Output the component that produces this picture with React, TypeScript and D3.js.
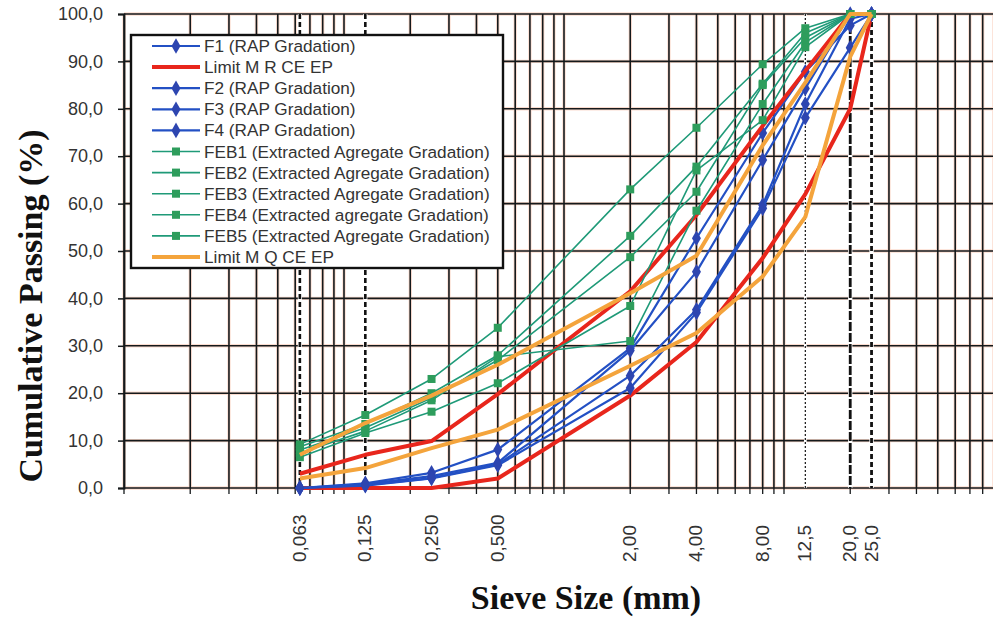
import { useEffect, useRef } from 'react'
import * as d3 from 'd3'

// sieve sizes (mm) and their printed labels
const SIEVES = [0.063, 0.125, 0.25, 0.5, 2, 4, 8, 12.5, 20, 25]
const SIEVE_LABELS = ['0,063', '0,125', '0,250', '0,500', '2,00', '4,00', '8,00', '12,5', '20,0', '25,0']
const Y_TICKS = [0, 10, 20, 30, 40, 50, 60, 70, 80, 90, 100]
// sieves marked with extra vertical reference lines
const REF_SIEVES = [0.063, 0.125, 12.5, 20, 25]

// cumulative passing (%)
const F1 = [0, 1.0, 3.2, 8.1, 29.5, 52.7, 74.9, 87.8, 97.6, 100]
const F2 = [0, 0.8, 2.5, 5.3, 29.0, 45.6, 69.2, 84.3, 100, 100]
const F3 = [0, 0.6, 2.1, 5.0, 23.7, 37.6, 59.7, 81.0, 99.0, 100]
const F4 = [0, 0.5, 2.0, 4.8, 21.1, 37.0, 59.0, 78.1, 92.9, 100]
const FEB1 = [9.2, 15.4, 23.0, 33.8, 63.0, 76.0, 89.4, 97.0, 100, 100]
const FEB2 = [8.7, 13.5, 20.0, 28.0, 53.2, 67.8, 85.3, 96.0, 100, 100]
const FEB3 = [8.0, 12.7, 19.0, 27.0, 48.7, 62.5, 85.0, 95.0, 100, 100]
const FEB4 = [7.4, 12.0, 18.5, 27.7, 31.0, 58.5, 81.0, 94.0, 100, 100]
const FEB5 = [6.5, 11.6, 16.1, 22.1, 38.4, 67.0, 77.6, 93.0, 100, 100]
const LIMIT_MR_LOW = [0, 0, 0, 2.0, 19.5, 30.8, 48.5, 62.0, 80.0, 100]
const LIMIT_MR_HIGH = [3.0, 7.0, 9.9, 19.8, 41.5, 57.6, 76.4, 88.0, 100, 100]
const LIMIT_MQ_LOW = [2.0, 4.2, 8.4, 12.3, 25.8, 32.7, 44.6, 57.2, 91.0, 100]
const LIMIT_MQ_HIGH = [7.0, 13.7, 19.5, 26.0, 41.1, 49.0, 72.3, 85.5, 100, 100]

const BLUE = '#2350c4', BLUE_MK = '#2d45b0'
const RED = '#e8261c', ORANGE = '#f4a43c'
const GREEN = '#1f9a78', GREEN_MK = '#2e9d5c'
const INK = '#15191b'

type Kind = 'rap' | 'feb' | 'mr' | 'mq'
const LEGEND: [string, Kind][] = [
  ['F1 (RAP Gradation)', 'rap'],
  ['Limit M R CE EP', 'mr'],
  ['F2 (RAP Gradation)', 'rap'],
  ['F3 (RAP Gradation)', 'rap'],
  ['F4 (RAP Gradation)', 'rap'],
  ['FEB1 (Extracted Agregate Gradation)', 'feb'],
  ['FEB2 (Extracted Agregate Gradation)', 'feb'],
  ['FEB3 (Extracted Agregate Gradation)', 'feb'],
  ['FEB4 (Extracted agregate Gradation)', 'feb'],
  ['FEB5 (Extracted Agregate Gradation)', 'feb'],
  ['Limit M Q CE EP', 'mq'],
]

const fmtY = (v: number) => v.toFixed(1).replace('.', ',')

export default function App() {
  const svgRef = useRef<SVGSVGElement>(null)

  useEffect(() => {
    if (!svgRef.current) return
    const svg = d3.select(svgRef.current)
    svg.selectAll('*').remove()

    const W = 993, H = 617
    const m = { t: 14, l: 124, b: 488 }
    const x = d3.scaleLog().domain([0.01, 100]).range([m.l, 1004])
    const y = d3.scaleLinear().domain([0, 100]).range([m.b, m.t])

    svg.append('rect').attr('width', W).attr('height', H).attr('fill', '#fff')

    // grid: faint salmon halo under dark line
    const grid = svg.append('g')
    const gx = x.ticks()
    const drawGrid = (stroke: string, w: number) => {
      grid.selectAll(null).data(gx).join('line')
        .attr('x1', d => x(d)).attr('x2', d => x(d)).attr('y1', m.t).attr('y2', m.b)
        .attr('stroke', stroke).attr('stroke-width', w)
      grid.selectAll(null).data(Y_TICKS).join('line')
        .attr('x1', m.l).attr('x2', W).attr('y1', d => y(d)).attr('y2', d => y(d))
        .attr('stroke', stroke).attr('stroke-width', w)
    }
    drawGrid('#fbdccf', 3.4)
    drawGrid(INK, 1.6)

    // reference sieve lines
    const refStyle: Record<number, [number, string]> = {
      0.063: [2.6, '5,3'], 0.125: [2.6, '5,3'], 12.5: [1.2, '2,2'], 20: [2.8, '9,2'], 25: [2.8, '5,3'],
    }
    REF_SIEVES.forEach(s => {
      const [w, dash] = refStyle[s]
      svg.append('line').attr('x1', x(s)).attr('x2', x(s)).attr('y1', m.t).attr('y2', m.b)
        .attr('stroke', '#fff').attr('stroke-width', w + 1.5)
      svg.append('line').attr('x1', x(s)).attr('x2', x(s)).attr('y1', m.t).attr('y2', m.b)
        .attr('stroke', '#111').attr('stroke-width', w).attr('stroke-dasharray', dash)
    })

    // y axis
    const ya = svg.append('g').attr('transform', `translate(${m.l},0)`)
      .call(d3.axisLeft(y).tickValues(Y_TICKS).tickSize(6).tickPadding(15).tickFormat(d => fmtY(+d)))
    ya.select('.domain').attr('stroke', INK).attr('stroke-width', 1.8)
    ya.selectAll('line').attr('stroke', INK).attr('stroke-width', 1.5)
    ya.selectAll('text').attr('font-family', 'Arial, "Liberation Sans", sans-serif')
      .attr('font-size', 18).attr('fill', '#333')

    // x axis minor ticks + rotated labels
    svg.append('g').selectAll('line').data(gx).join('line')
      .attr('x1', d => x(d)).attr('x2', d => x(d)).attr('y1', m.b).attr('y2', m.b + 6)
      .attr('stroke', INK).attr('stroke-width', 1.3)
    svg.append('g').selectAll('text').data(SIEVES).join('text')
      .attr('transform', d => `translate(${x(d) + 6},562) rotate(-90)`)
      .attr('font-family', 'Arial, "Liberation Sans", sans-serif').attr('font-size', 19)
      .attr('fill', '#333')
      .text((d, i) => SIEVE_LABELS[i])

    // series, in the order they were plotted
    const line = d3.line<number>().x((d, i) => x(SIEVES[i])).y(d => y(d))
    const path = (vals: number[], color: string, w: number) =>
      svg.append('path').datum(vals).attr('fill', 'none').attr('stroke', color)
        .attr('stroke-width', w).attr('stroke-linejoin', 'round').attr('d', line)
    const diamonds = (vals: number[]) =>
      svg.append('g').selectAll('path').data(vals).join('path')
        .attr('transform', (d, i) => `translate(${x(SIEVES[i])},${y(d)})`)
        .attr('d', d3.symbol(d3.symbolDiamond, 70)).attr('fill', BLUE_MK)
    const squares = (vals: number[]) =>
      svg.append('g').selectAll('rect').data(vals).join('rect')
        .attr('x', (d, i) => x(SIEVES[i]) - 4).attr('y', d => y(d) - 4)
        .attr('width', 8).attr('height', 8).attr('fill', GREEN_MK)

    path(F1, BLUE, 2.2); diamonds(F1)
    path(LIMIT_MR_LOW, RED, 4); path(LIMIT_MR_HIGH, RED, 4)
    ;[F2, F3, F4].forEach(s => { path(s, BLUE, 2.2); diamonds(s) })
    ;[FEB1, FEB2, FEB3, FEB4, FEB5].forEach(s => { path(s, GREEN, 1.6); squares(s) })
    path(LIMIT_MQ_LOW, ORANGE, 4); path(LIMIT_MQ_HIGH, ORANGE, 4)

    // legend
    const lg = svg.append('g')
    lg.append('rect').attr('x', 131).attr('y', 35).attr('width', 372).attr('height', 233)
      .attr('fill', '#fff').attr('stroke', '#111').attr('stroke-width', 2.4)
    LEGEND.forEach(([name, kind], i) => {
      const cy = 46 + i * 21.1
      const color = kind === 'rap' ? BLUE : kind === 'feb' ? GREEN : kind === 'mr' ? RED : ORANGE
      lg.append('line').attr('x1', 152).attr('x2', 200).attr('y1', cy).attr('y2', cy)
        .attr('stroke', color).attr('stroke-width', kind === 'mr' || kind === 'mq' ? 4 : kind === 'rap' ? 2.2 : 1.6)
      if (kind === 'rap') lg.append('path').attr('transform', `translate(176,${cy})`)
        .attr('d', d3.symbol(d3.symbolDiamond, 70)).attr('fill', BLUE_MK)
      if (kind === 'feb') lg.append('rect').attr('x', 172).attr('y', cy - 4).attr('width', 8).attr('height', 8)
        .attr('fill', GREEN_MK)
      lg.append('text').attr('x', 204).attr('y', cy + 6)
        .attr('font-family', 'Arial, "Liberation Sans", sans-serif').attr('font-size', 17.2)
        .attr('fill', '#333').text(name)
    })

    // axis titles
    svg.append('text').attr('transform', 'translate(42,306) rotate(-90)').attr('text-anchor', 'middle')
      .attr('font-family', '"Times New Roman", "Liberation Serif", serif').attr('font-weight', 'bold')
      .attr('font-size', 34).attr('fill', '#111').text('Cumulative Passing (%)')
    svg.append('text').attr('x', 586).attr('y', 609).attr('text-anchor', 'middle')
      .attr('font-family', '"Times New Roman", "Liberation Serif", serif').attr('font-weight', 'bold')
      .attr('font-size', 34).attr('fill', '#111').text('Sieve Size (mm)')
  }, [])

  return (
    <svg ref={svgRef} width={993} height={617}
      style={{ position: 'absolute', left: 0, top: 0, display: 'block' }} />
  )
}
